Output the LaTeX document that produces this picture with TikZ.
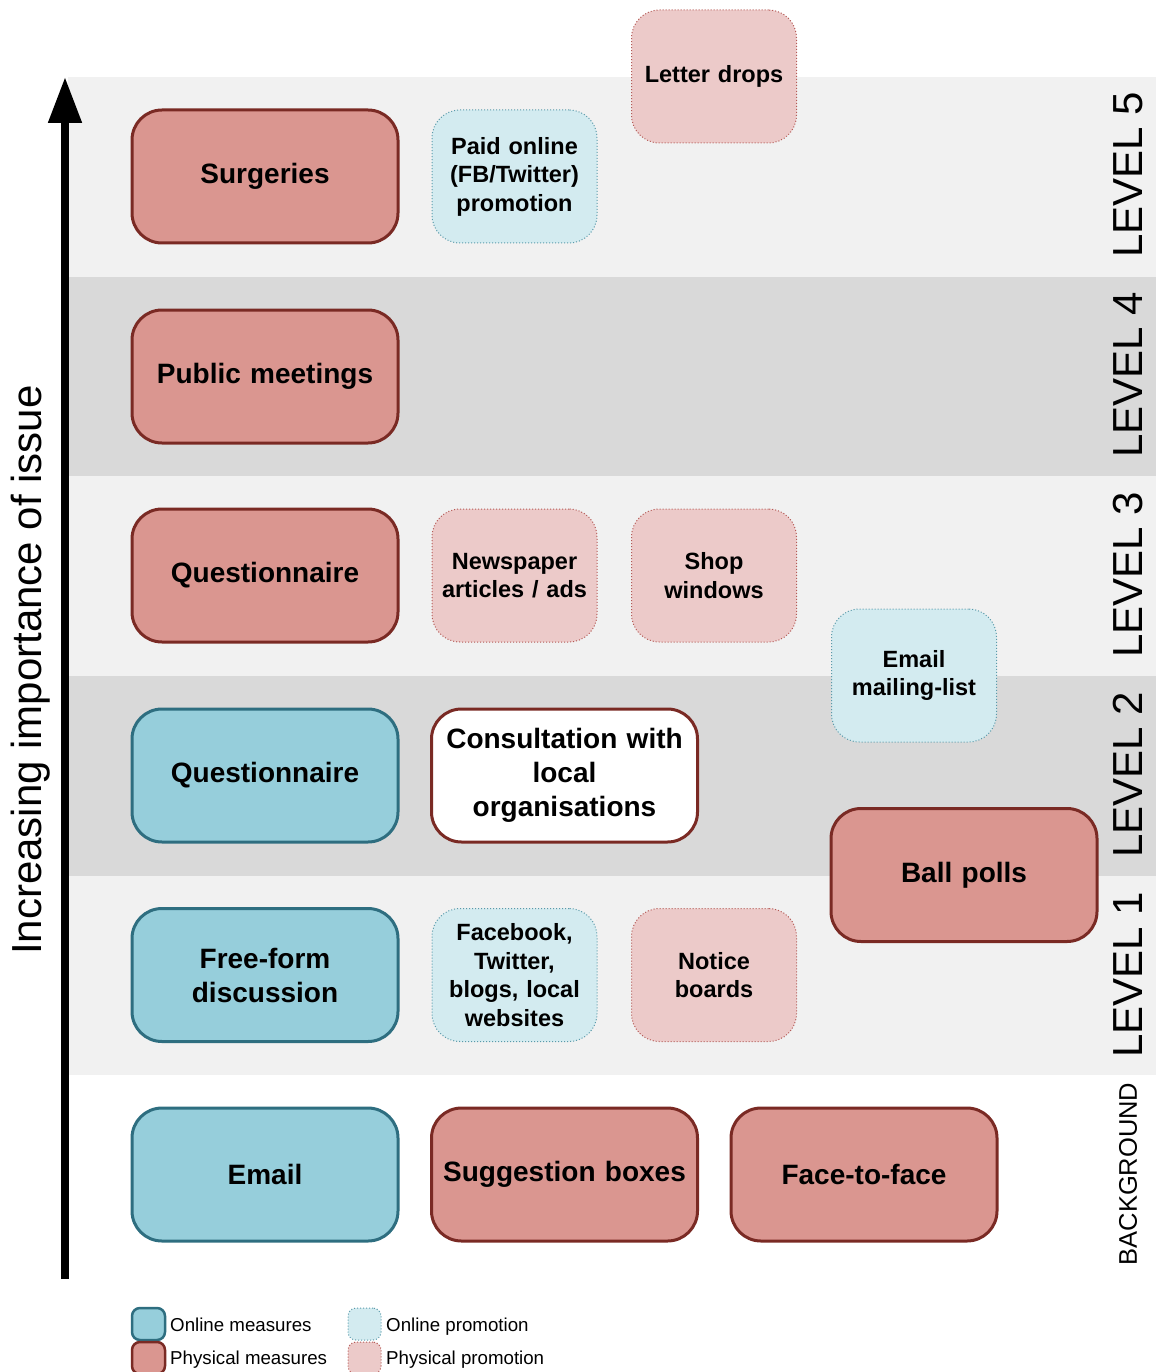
\documentclass[tikz,border=0pt]{standalone}
\usepackage{fontspec}
\setmainfont{Liberation Sans}
\usetikzlibrary{arrows.meta}
\definecolor{pmfill}{RGB}{218,150,144}
\definecolor{pmdraw}{RGB}{122,42,36}
\definecolor{omfill}{RGB}{150,206,219}
\definecolor{omdraw}{RGB}{46,110,128}
\definecolor{ppfill}{RGB}{236,202,201}
\definecolor{ppdraw}{RGB}{180,90,86}
\definecolor{opfill}{RGB}{211,235,240}
\definecolor{opdraw}{RGB}{90,154,170}
\definecolor{bandlight}{RGB}{241,241,241}
\definecolor{banddark}{RGB}{217,217,217}
\begin{document}
\begin{tikzpicture}[x=1pt,y=-1pt,
  box/.style={rectangle, rounded corners=30pt, inner sep=0pt, align=center,
     font=\fontsize{28}{34}\selectfont\bfseries, text=black},
  bigbox/.style={box, minimum width=266pt, minimum height=133pt, text width=250pt},
  smallbox/.style={box, rounded corners=28pt, minimum width=165pt, minimum height=133pt, text width=160pt,
     font=\fontsize{23.5}{28.5}\selectfont\bfseries},
  pm/.style={fill=pmfill, draw=pmdraw, line width=3pt},
  om/.style={fill=omfill, draw=omdraw, line width=3pt},
  pp/.style={fill=ppfill, draw=ppdraw, line width=1pt, dotted},
  op/.style={fill=opfill, draw=opdraw, line width=1pt, dotted},
  cw/.style={fill=white, draw=pmdraw, line width=3pt},
  lvl/.style={rotate=90, font=\fontsize{42}{42}\selectfont, inner sep=0pt},
  legbox/.style={rectangle, rounded corners=8pt, minimum width=33pt, minimum height=32pt, inner sep=0pt},
  legtext/.style={anchor=base west, font=\fontsize{18.7}{20}\selectfont, inner sep=0pt}
]
\useasboundingbox (0,0) rectangle (1156,1372);
% bands
\fill[bandlight] (68,77) rectangle (1156,277);
\fill[banddark] (68,277) rectangle (1156,476);
\fill[bandlight] (68,476) rectangle (1156,676);
\fill[banddark] (68,676) rectangle (1156,876);
\fill[bandlight] (68,876) rectangle (1156,1075);

% axis
\coordinate (axbot) at (65,1279);
\coordinate (axtop) at (65,77);
\draw[line width=8pt, -{Triangle[width=32pt,length=46pt]}] (axbot) -- (axtop);
\node[rotate=90, font=\fontsize{42}{42}\selectfont, inner sep=0pt] (axlabel) at (31,670) {Increasing importance of issue};

% level labels
\node[lvl] (l5) at (1128,175) {LEVEL 5};
\node[lvl] (l4) at (1128,375) {LEVEL 4};
\node[lvl] (l3) at (1128,575) {LEVEL 3};
\node[lvl] (l2) at (1128,775) {LEVEL 2};
\node[lvl] (l1) at (1128,975) {LEVEL 1};
\node[rotate=90, font=\fontsize{25.5}{26}\selectfont, inner sep=0pt] (lb) at (1128,1174) {BACKGROUND};

% column 1
\node[bigbox, pm] (surg) at (265,176.5) {Surgeries};
\node[bigbox, pm] (pub) at (265,376.5) {Public meetings};
\node[bigbox, pm] (quesp) at (265,575.5) {Questionnaire};
\node[bigbox, om] (queso) at (265,775.5) {Questionnaire};
\node[bigbox, om] (free) at (265,975) {Free-form\\discussion};
\node[bigbox, om] (email) at (265,1174.5) {Email};

% column 2
\node[smallbox, op] (paid) at (514.5,176.5) {Paid online\\(FB/Twitter)\\promotion};
\node[smallbox, pp] (news) at (514.5,575.5) {Newspaper\\articles / ads};
\node[bigbox, cw] (cons) at (564.5,775.5) {Consultation with\\local\\organisations};
\node[smallbox, op] (fb) at (514.5,975) {Facebook,\\Twitter,\\blogs, local\\websites};
\node[bigbox, pm] (sugg) at (564.5,1174.5) {Suggestion boxes};

% column 3
\node[smallbox, pp] (letter) at (714,76.5) {Letter drops};
\node[smallbox, pp] (shop) at (714,575.5) {Shop\\windows};
\node[smallbox, pp] (notice) at (714,975) {Notice\\boards};
\node[bigbox, pm] (face) at (864,1174.5) {Face-to-face};

% column 4
\node[smallbox, op] (mail) at (914,675.5) {Email\\mailing-list};
\node[bigbox, pm] (ball) at (964,875) {Ball polls};

% legend
\node[legbox, om, line width=2.5pt] (lom) at (148.5,1324) {};
\node[legbox, pm, line width=2.5pt] (lpm) at (148.5,1358) {};
\node[legbox, op] (lop) at (364.5,1324) {};
\node[legbox, pp] (lpp) at (364.5,1358) {};
\node[legtext] (tom) at (170,1331) {Online measures};
\node[legtext] (tpm) at (170,1364) {Physical measures};
\node[legtext] (top) at (386,1331) {Online promotion};
\node[legtext] (tpp) at (386,1364) {Physical promotion};
\end{tikzpicture}
\end{document}
